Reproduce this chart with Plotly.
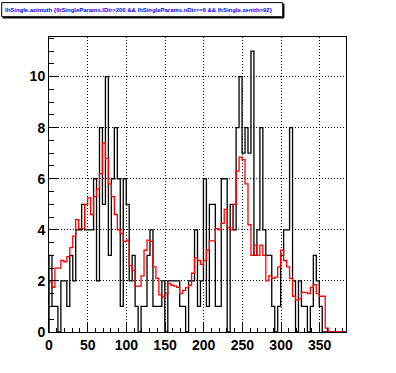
import numpy as np
import plotly.graph_objects as go

# ---- data (100 bins, 0..384) ----
bin_width = 3.84
n_bins = 100
black_counts = [3,1,1,0,2,2,1,3,2,4, 4,5,4,4,4,6,2,8,5,10,
                3,6,8,6,1,6,5,2,3,1, 0,1,1,3,4,1,1,1,2,0,
                2,2,2,2,1,1,0,2,2,4, 1,2,6,1,5,5,1,1,6,6,
                0,5,4,8,10,7,8,7,11,3, 4,8,4,3,3,1,0,1,3,4,
                4,8,2,0,2,1,1,0,1,3, 2,1,0,0,0,0,0,0,0,0]
red_counts = [1.95,1.75,2.5,2.5,2.8,2.75,2.95,3.3,3.75,4.4,
              4.05,4.05,5.0,5.25,4.6,5.3,5.6,6.2,7.4,6.8,
              5.8,5.3,4.6,4.0,3.85,3.55,3.6,2.6,2.4,1.8,
              1.8,2.2,3.2,3.6,3.55,2.55,2.1,1.45,1.37,1.5,
              1.9,1.83,1.8,1.75,1.5,1.63,1.74,1.83,2.3,2.9,
              2.8,2.65,2.8,3.2,3.57,3.57,4.05,4.0,4.25,4.8,
              4.1,4.0,5.0,6.3,6.85,6.75,5.8,4.2,3.0,3.4,
              3.0,3.4,3.0,2.0,2.2,2.1,2.15,2.55,3.2,2.8,
              2.55,2.1,1.4,1.25,1.3,1.55,1.55,1.5,1.75,1.85,
              1.5,1.4,1.4,0.15,0,0,0,0,0,0]
x_tick_vals = [0, 50, 100, 150, 200, 250, 300, 350]
y_tick_vals = [0, 2, 4, 6, 8, 10]
title_text = "lhSingle.azimuth {lhSingleParams.lDir>200 && lhSingleParams.nDir>=6 && lhSingle.zenith>92}"

edges = np.arange(n_bins + 1) * bin_width
x_max = edges[-1]
y_max = 11 * 1.05

def step(vals):
    xs = [edges[0]] + list(edges[:-1]) + [edges[-1]]
    ys = [0] + list(vals) + [vals[-1]]
    return xs, ys

W, H = 396, 373
L, R, T, B = 49.3, 49.7, 37.3, 41.3
pw, ph = W - L - R, H - T - B

def px_x(p):
    return (p - L) / pw

def px_y(p):
    return (H - B - p) / ph

fig = go.Figure()
bx, by = step(black_counts)
fig.add_trace(go.Scatter(x=bx, y=by, mode="lines", line=dict(color="black", width=1.3, shape="hv"),
                         showlegend=False, hoverinfo="skip"))
rx, ry = step(red_counts)
fig.add_trace(go.Scatter(x=rx, y=ry, mode="lines", line=dict(color="#ff0000", width=1.3, shape="hv"),
                         showlegend=False, hoverinfo="skip"))

axis_font = dict(family="Liberation Sans, Arial, sans-serif", size=14, color="black", weight="bold")
common = dict(showline=True, linecolor="black", linewidth=1, mirror=True, zeroline=False,
              ticks="inside", ticklen=9, tickwidth=1, tickcolor="black",
              showgrid=True, gridcolor="black", gridwidth=1, griddash="1px,2px",
              tickfont=axis_font, fixedrange=True, automargin=False)

fig.update_xaxes(range=[0, x_max], tickmode="array", tickvals=x_tick_vals,
                 ticktext=[str(v) for v in x_tick_vals],
                 minor=dict(ticks="inside", ticklen=4.5, tickwidth=1, tickcolor="black",
                            tickmode="linear", tick0=0, dtick=10, showgrid=False),
                 **common)
fig.update_yaxes(range=[0, y_max], tickmode="array", tickvals=y_tick_vals,
                 ticktext=[str(v) for v in y_tick_vals],
                 minor=dict(ticks="inside", ticklen=4.5, tickwidth=1, tickcolor="black",
                            tickmode="linear", tick0=0, dtick=0.5, showgrid=False),
                 **common)

# title pave
bx0, bx1, by0, by1 = 2, 283, 3, 17
fig.add_shape(type="rect", xref="paper", yref="paper",
              x0=px_x(bx0), x1=px_x(bx1), y0=px_y(by1), y1=px_y(by0),
              line=dict(color="black", width=1), fillcolor="white", layer="above")
fig.add_shape(type="line", xref="paper", yref="paper",
              x0=px_x(bx0 + 1), x1=px_x(bx1 + 1), y0=px_y(by1 + 1), y1=px_y(by1 + 1),
              line=dict(color="black", width=1.5))
fig.add_shape(type="line", xref="paper", yref="paper",
              x0=px_x(bx1 + 1), x1=px_x(bx1 + 1), y0=px_y(by1 + 1), y1=px_y(by0 + 1),
              line=dict(color="black", width=1.5))
fig.add_annotation(text=title_text, xref="paper", yref="paper",
                   x=px_x(bx0 + 1.5), y=px_y((by0 + by1) / 2 + 0.5),
                   xanchor="left", yanchor="middle", showarrow=False,
                   font=dict(family="Liberation Sans, Arial, sans-serif", size=5.95, color="#0000ff", weight="bold"))

fig.update_layout(width=W, height=H, margin=dict(l=L, r=R, t=T, b=B, pad=0, autoexpand=False),
                  paper_bgcolor="white", plot_bgcolor="white", showlegend=False)

fig.write_html("out.html", config={"displayModeBar": False, "staticPlot": True},
               post_script="document.body.style.margin='0px';document.body.style.overflow='hidden';")
